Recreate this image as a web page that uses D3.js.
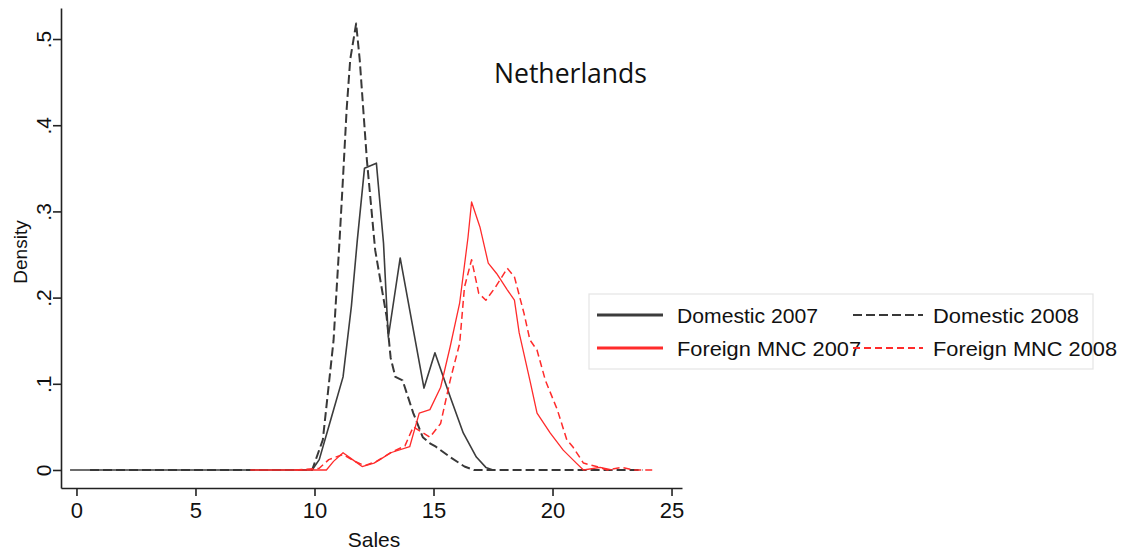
<!DOCTYPE html>
<html>
<head>
<meta charset="utf-8">
<script src="https://cdn.jsdelivr.net/npm/d3@7"></script>
<style>
  body { margin: 0; background: #fff; }
  svg text { font-family: "Liberation Sans", Arial, sans-serif; fill: #111; }
</style>
</head>
<body>
<div id="app"></div>
<script>
(function (d3) {
  'use strict'

  // kdensity curves, [sales, density]
  const domestic2007 = [[-0.27,0],[9.9,0],[10.2,0.012],[10.7,0.06],[11.2,0.108],[11.55,0.19],[11.8,0.267],
    [12.1,0.35],[12.6,0.356],[12.9,0.263],[13.1,0.154],[13.6,0.246],[14.6,0.095],[15.06,0.136],
    [15.7,0.085],[16.25,0.043],[16.8,0.015],[17.2,0.003],[17.5,0]]
  const domestic2008 = [[0.57,0],[9.9,0],[10.35,0.035],[10.8,0.15],[11.05,0.265],[11.2,0.34],[11.35,0.418],
    [11.5,0.476],[11.75,0.518],[11.9,0.476],[12.05,0.418],[12.2,0.36],[12.55,0.255],[13.03,0.178],
    [13.2,0.13],[13.4,0.108],[13.7,0.104],[14.15,0.066],[14.55,0.038],[14.85,0.031],[15.1,0.027],
    [15.7,0.015],[16.3,0.004],[16.7,0],[23.8,0]]
  const foreign2007 = [[7.3,0],[10.5,0],[10.8,0.01],[11.2,0.02],[11.6,0.012],[12.0,0.004],[12.5,0.008],
    [12.75,0.012],[13.2,0.02],[14.0,0.027],[14.4,0.066],[14.85,0.07],[15.3,0.096],[15.7,0.143],
    [16.1,0.194],[16.45,0.27],[16.6,0.311],[16.95,0.282],[17.3,0.24],[17.65,0.228],[18.1,0.209],
    [18.4,0.197],[18.6,0.159],[19.05,0.104],[19.35,0.066],[19.9,0.043],[20.45,0.023],[21.0,0.008],
    [21.3,0],[22.0,0.003],[22.5,0]]
  const foreign2008 = [[9.2,0],[10.2,0.002],[10.6,0.012],[11.2,0.018],[11.7,0.01],[12.1,0.005],[12.6,0.01],
    [13.2,0.02],[13.8,0.028],[14.15,0.05],[14.85,0.038],[15.3,0.054],[15.7,0.104],[16.1,0.147],
    [16.3,0.212],[16.6,0.244],[16.9,0.205],[17.2,0.197],[17.6,0.212],[18.1,0.234],[18.4,0.224],
    [18.8,0.182],[19.05,0.151],[19.35,0.139],[19.7,0.104],[20.2,0.07],[20.6,0.035],[20.85,0.027],
    [21.3,0.008],[21.85,0.004],[22.3,0],[22.9,0.003],[23.4,0],[24.35,0]]

  const xTicks = [0, 5, 10, 15, 20, 25]
  const yTicks = [0, 0.1, 0.2, 0.3, 0.4, 0.5]
  const yTickLabels = ['0', '.1', '.2', '.3', '.4', '.5']
  const seriesNames = ['Domestic 2007', 'Domestic 2008', 'Foreign MNC 2007', 'Foreign MNC 2008']

  const w = 1125
  const h = 551

  const svg = d3.select('#app')
    .append('svg')
    .attr('width', w)
    .attr('height', h)

  svg.append('rect').attr('width', w).attr('height', h).attr('fill', '#fff')

  const x = d3.scaleLinear().domain([-0.65, 25.44]).range([61, 682])
  const y = d3.scaleLinear().domain([-0.0209, 0.536]).range([488, 8])

  const series = [
    { name: seriesNames[0], data: domestic2007, color: '#3c3c3c', width: 1.6, dash: null },
    { name: seriesNames[1], data: domestic2008, color: '#383838', width: 2, dash: '9,4' },
    { name: seriesNames[2], data: foreign2007, color: '#ff2b2b', width: 1.3, dash: null },
    { name: seriesNames[3], data: foreign2008, color: '#ff2b2b', width: 1.5, dash: '7,4' }
  ]

  const line = d3.line().x(d => x(d[0])).y(d => y(d[1]))

  svg.append('g')
    .selectAll('path')
    .data(series)
    .enter()
    .append('path')
    .attr('d', d => line(d.data))
    .attr('fill', 'none')
    .attr('stroke', d => d.color)
    .attr('stroke-width', d => d.width)
    .attr('stroke-dasharray', d => d.dash)
    .attr('stroke-linejoin', 'round')

  // axes
  const xAxis = svg.append('g')
    .attr('transform', 'translate(0,488)')
    .call(d3.axisBottom(x).tickValues(xTicks).tickSize(8).tickSizeOuter(0).tickPadding(6))
  xAxis.selectAll('text').style('font-size', '22px').attr('fill', '#111')

  const yAxis = svg.append('g')
    .attr('transform', 'translate(61,0)')
    .call(d3.axisLeft(y).tickValues(yTicks).tickSize(8).tickSizeOuter(0).tickFormat((d, i) => yTickLabels[i]))
  yAxis.selectAll('text')
    .style('font-size', '21px')
    .attr('fill', '#111')
    .attr('text-anchor', 'middle')
    .attr('x', 0)
    .attr('dy', 0)
    .attr('transform', 'translate(-10,0) rotate(-90)')

  svg.selectAll('.domain, .tick line').attr('stroke', '#222').attr('stroke-width', 1.6)

  svg.append('text')
    .attr('x', 374)
    .attr('y', 547)
    .attr('text-anchor', 'middle')
    .style('font-size', '21px')
    .text('Sales')

  svg.append('text')
    .attr('transform', 'translate(27,252) rotate(-90)')
    .attr('text-anchor', 'middle')
    .style('font-size', '19px')
    .text('Density')

  svg.append('text')
    .attr('x', 494)
    .attr('y', 83)
    .attr('textLength', 153)
    .attr('lengthAdjust', 'spacingAndGlyphs')
    .style('font-family', '"Open Sans", "Noto Sans", sans-serif')
    .style('font-size', '28px')
    .style('font-weight', 500)
    .text('Netherlands')

  // legend
  const legend = svg.append('g')
  legend.append('rect')
    .attr('x', 589).attr('y', 294).attr('width', 504).attr('height', 75)
    .attr('fill', '#fff').attr('stroke', '#e4e4e4').attr('stroke-width', 1.2)

  const pos = [[597, 315], [853, 315], [597, 348], [853, 348]]
  const items = legend.selectAll('g.item')
    .data(series)
    .enter()
    .append('g')
    .attr('class', 'item')
    .attr('transform', (d, i) => 'translate(' + pos[i][0] + ',' + pos[i][1] + ')')

  items.append('line')
    .attr('x1', 0).attr('x2', d => d.dash ? 70 : 66)
    .attr('stroke', d => d.color)
    .attr('stroke-width', d => d.dash ? 2 : 2.8)
    .attr('stroke-dasharray', d => d.dash)

  items.append('text')
    .attr('x', 80)
    .attr('y', 8)
    .attr('textLength', (d, i) => [141, 146, 184, 184][i])
    .attr('lengthAdjust', 'spacingAndGlyphs')
    .style('font-size', '21px')
    .text(d => d.name)

}(d3))
</script>
</body>
</html>
